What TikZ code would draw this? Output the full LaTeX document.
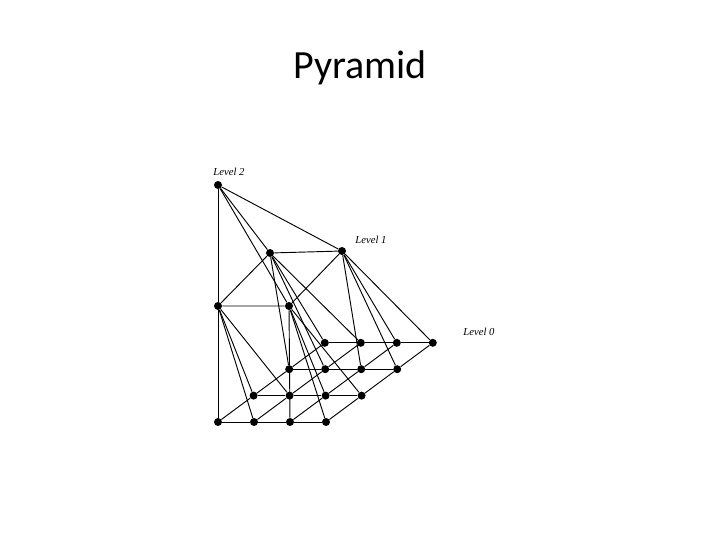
\documentclass[tikz,border=0pt]{standalone}
\usepackage{fontspec}
\setmainfont{Liberation Serif}
\newfontfamily\titlefont{Carlito}
\begin{document}
\begin{tikzpicture}[x=0.75pt,y=-0.75pt,
  dot/.style={circle,fill=black,inner sep=0pt,minimum size=6pt},
  edge/.style={line width=0.7pt},
  lbl/.style={font=\itshape\fontsize{8}{9}\selectfont}]
\useasboundingbox (0,0) rectangle (720,540);
\node[font=\titlefont\fontsize{30}{34}\selectfont] (title) at (360,68) {Pyramid};
% level 0
\foreach \i in {0,...,3}{\foreach \j in {0,...,3}{
  \pgfmathsetmacro\px{218+36*\i+35.6*\j}
  \pgfmathsetmacro\py{422-26.4*\j}
  \node[dot] (p\i\j) at (\px,\py) {};}}
% level 1
\node[dot] (q00) at (218,306) {};
\node[dot] (q10) at (289,306) {};
\node[dot] (q01) at (270,253) {};
\node[dot] (q11) at (342,251) {};
% level 2
\node[dot] (r) at (218,185) {};
\node[lbl] (l2) at (229,172) {Level 2};
\node[lbl] (l1) at (371,240) {Level 1};
\node[lbl] (l0) at (479,332) {Level 0};
% grid edges
\foreach \i in {0,...,3}{
  \draw[edge] (p\i0) -- (p\i1) -- (p\i2) -- (p\i3);
  \draw[edge] (p0\i) -- (p1\i) -- (p2\i) -- (p3\i);}
% level1 square
\draw[edge] (q00) -- (q10) -- (q11) -- (q01) -- (q00);
% level2 to level1
\foreach \q in {q00,q10,q01,q11} \draw[edge] (r) -- (\q);
% level1 to level0
\foreach \a in {0,1}{\foreach \b in {0,1}{
  \foreach \di in {0,1}{\foreach \dj in {0,1}{
    \pgfmathtruncatemacro\ii{2*\a+\di}
    \pgfmathtruncatemacro\jj{2*\b+\dj}
    \draw[edge] (q\a\b) -- (p\ii\jj);}}}}
\end{tikzpicture}
\end{document}
